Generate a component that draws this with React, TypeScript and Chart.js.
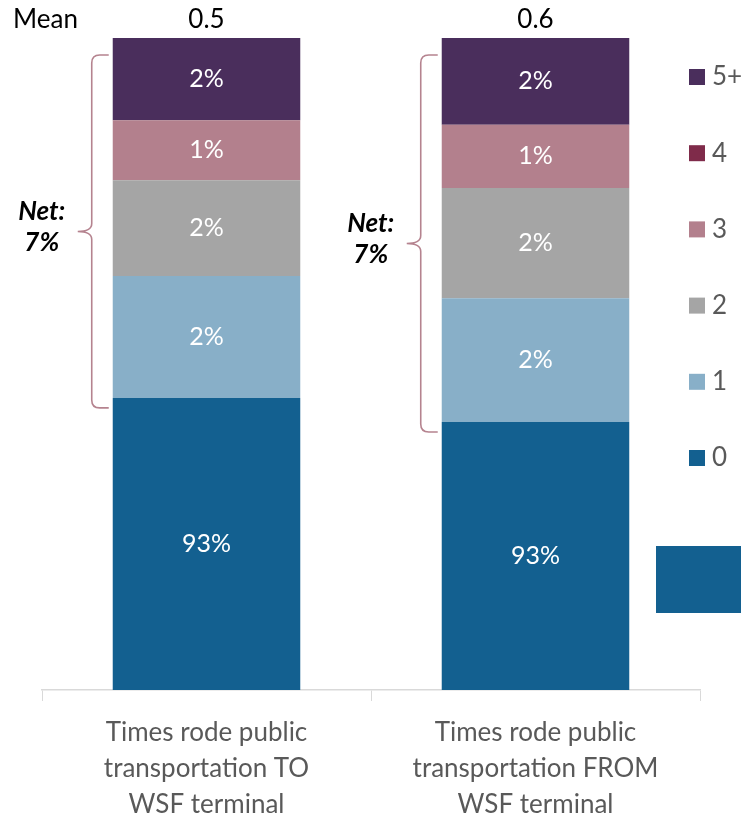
import React, { useEffect, useRef } from "react";
import { Chart, registerables } from "chart.js";

Chart.register(...registerables);

const categories = [
  ["Times rode public", "transportation TO", "WSF terminal"],
  ["Times rode public", "transportation FROM", "WSF terminal"],
];
const seriesNames = ["0", "1", "2", "3", "4", "5+"];
const seriesColors = ["#136090", "#88AFC8", "#A5A5A5", "#B3808D", "#7F2B4A", "#4A2E5C"];

// segment heights as drawn in the picture (share of bar height)
const heights0 = [44.8, 41.1];
const heights1 = [18.7, 19.0];
const heights2 = [14.7, 16.9];
const heights3 = [9.2, 9.7];
const heights4 = [0, 0];
const heights5 = [12.6, 13.3];

// printed labels
const labels0 = ["93%", "93%"];
const labels1 = ["2%", "2%"];
const labels2 = ["2%", "2%"];
const labels3 = ["1%", "1%"];
const labels4 = ["", ""];
const labels5 = ["2%", "2%"];

const means = ["0.5", "0.6"];
const nets = ["7%", "7%"];

const FONT = "Lato, 'Open Sans', sans-serif";

export default function App() {
  const ref = useRef<HTMLCanvasElement | null>(null);

  useEffect(() => {
    if (!ref.current) return;
    const heights = [heights0, heights1, heights2, heights3, heights4, heights5];
    const labels = [labels0, labels1, labels2, labels3, labels4, labels5];

    const decor = {
      id: "decor",
      afterDatasetsDraw(chart: any) {
        const ctx = chart.ctx;
        const area = chart.chartArea;
        ctx.save();
        // segment labels
        ctx.fillStyle = "#FFFFFF";
        ctx.font = `25px ${FONT}`;
        ctx.textAlign = "center";
        ctx.textBaseline = "middle";
        chart.data.datasets.forEach((ds: any, di: number) => {
          const meta = chart.getDatasetMeta(di);
          meta.data.forEach((el: any, i: number) => {
            const t = labels[di][i];
            if (!t) return;
            ctx.fillText(t, el.x, (el.y + el.base) / 2);
          });
        });
        // means
        ctx.fillStyle = "#000000";
        ctx.font = `26px ${FONT}`;
        const topMeta = chart.getDatasetMeta(5);
        const baseMeta = chart.getDatasetMeta(0);
        topMeta.data.forEach((el: any, i: number) => {
          ctx.textAlign = "center";
          ctx.fillText(means[i], el.x, area.top - 18);
        });
        ctx.textAlign = "left";
        ctx.fillText("Mean", 13, area.top - 18);

        // brackets + net
        topMeta.data.forEach((el: any, i: number) => {
          const left = el.x - el.width / 2;
          const top = el.y + 17;
          const bottom = baseMeta.data[i].y + 10;
          const mid = (top + bottom) / 2;
          const vx = left - 21;
          const tipX = left - 35;
          const endX = left - 4;
          ctx.strokeStyle = "#B5838F";
          ctx.lineWidth = 1.6;
          ctx.beginPath();
          ctx.moveTo(endX, top);
          ctx.lineTo(vx + 8, top);
          ctx.quadraticCurveTo(vx, top, vx, top + 8);
          ctx.lineTo(vx, mid - 8);
          ctx.quadraticCurveTo(vx, mid, tipX, mid);
          ctx.quadraticCurveTo(vx, mid, vx, mid + 8);
          ctx.lineTo(vx, bottom - 8);
          ctx.quadraticCurveTo(vx, bottom, vx + 8, bottom);
          ctx.lineTo(endX, bottom);
          ctx.stroke();
          ctx.fillStyle = "#000000";
          ctx.font = `italic bold 26px ${FONT}`;
          ctx.textAlign = "center";
          ctx.fillText("Net:", left - 71, mid - 20);
          ctx.fillText(nets[i], left - 71, mid + 11);
        });

        // legend
        const W = chart.width;
        ctx.font = `26px ${FONT}`;
        ctx.textAlign = "left";
        ctx.textBaseline = "middle";
        for (let k = 0; k < seriesNames.length; k++) {
          const idx = seriesNames.length - 1 - k;
          const cy = area.top + 39 + k * 76.2;
          ctx.fillStyle = seriesColors[idx];
          ctx.fillRect(W - 52, cy - 8, 16, 16);
          ctx.fillStyle = "#595959";
          ctx.fillText(seriesNames[idx], W - 29, cy);
        }
        // stray block at right edge
        ctx.fillStyle = seriesColors[0];
        ctx.fillRect(W - 85, area.bottom - 144, 85, 67);
        ctx.restore();
      },
    };

    const chart = new Chart(ref.current, {
      type: "bar",
      data: {
        labels: categories as any,
        datasets: seriesNames.map((n, i) => ({
          label: n,
          data: heights[i],
          backgroundColor: seriesColors[i],
          borderWidth: 0,
          barPercentage: 0.57,
          categoryPercentage: 1,
        })),
      },
      options: {
        animation: false,
        responsive: true,
        maintainAspectRatio: false,
        layout: { padding: { top: 38, left: 42, right: 41, bottom: 0 } },
        plugins: { legend: { display: false }, tooltip: { enabled: false } },
        scales: {
          x: {
            stacked: true,
            afterFit: (scale: any) => {
              scale.height = 124;
            },
            grid: {
              display: true,
              drawOnChartArea: false,
              drawTicks: true,
              tickLength: 11,
              color: "#D9D9D9",
              offset: true,
            },
            border: { display: true, color: "#D9D9D9", width: 1.5 },
            ticks: {
              color: "#595959",
              font: { family: FONT, size: 26, lineHeight: 1.4 },
              padding: 13,
              maxRotation: 0,
              autoSkip: false,
            },
          },
          y: {
            stacked: true,
            display: false,
            min: 0,
            max: 100,
          },
        },
      },
      plugins: [decor],
    });
    return () => chart.destroy();
  }, []);

  return (
    <div style={{ position: "fixed", left: 0, top: 0, width: 741, height: 814, background: "#fff" }}>
      <canvas ref={ref} />
    </div>
  );
}
